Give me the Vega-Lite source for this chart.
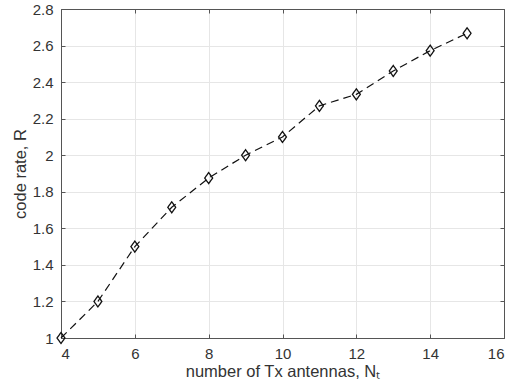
{
  "$schema": "https://vega.github.io/schema/vega-lite/v6.json",
  "width": 443,
  "height": 329,
  "autosize": {"type": "none"},
  "padding": {"left": 61, "top": 9, "right": 9, "bottom": 53},
  "background": "white",
  "config": {
    "view": {"stroke": "#555555", "strokeWidth": 1},
    "font": "Liberation Sans",
    "axis": {
      "labelFont": "Liberation Sans",
      "titleFont": "Liberation Sans",
      "labelColor": "#333333",
      "titleColor": "#333333",
      "labelFontSize": 15,
      "titleFontSize": 16.5,
      "titleFontWeight": "normal",
      "domainColor": "#555555",
      "tickColor": "#555555",
      "gridColor": "#e6e6e6",
      "gridWidth": 1
    }
  },
  "data": {
    "values": [
      {"Nt": 4, "R": 1.0},
      {"Nt": 5, "R": 1.2},
      {"Nt": 6, "R": 1.5},
      {"Nt": 7, "R": 1.715},
      {"Nt": 8, "R": 1.875},
      {"Nt": 9, "R": 2.0},
      {"Nt": 10, "R": 2.1},
      {"Nt": 11, "R": 2.27},
      {"Nt": 12, "R": 2.333},
      {"Nt": 13, "R": 2.461},
      {"Nt": 14, "R": 2.572},
      {"Nt": 15, "R": 2.667}
    ]
  },
  "layer": [
    {
      "mark": {
        "type": "line",
        "color": "#111111",
        "strokeWidth": 1.2,
        "strokeDash": [8, 5],
        "point": {"shape": "M0,-1L0.72,0L0,1L-0.72,0Z", "filled": false, "size": 121, "color": "#111111", "strokeWidth": 1.3, "strokeDash": [1, 0]}
      },
      "encoding": {
        "x": {
          "field": "Nt", "type": "quantitative",
          "scale": {"domain": [4, 16], "nice": false, "zero": false},
          "axis": {"values": [4, 6, 8, 10, 12, 14, 16], "title": "number of Tx antennas, Nₜ", "grid": true, "tickSize": -4, "labelPadding": 12, "titlePadding": 2, "domain": true}
        },
        "y": {
          "field": "R", "type": "quantitative",
          "scale": {"domain": [1, 2.8], "nice": false, "zero": false},
          "axis": {"values": [1, 1.2, 1.4, 1.6, 1.8, 2, 2.2, 2.4, 2.6, 2.8], "format": "~g", "title": "code rate, R", "grid": true, "tickSize": -4, "labelPadding": 12, "titlePadding": 4}
        }
      }
    },
    {
      "mark": {"type": "point", "opacity": 0},
      "encoding": {
        "x": {
          "field": "Nt", "type": "quantitative",
          "scale": {"domain": [4, 16], "nice": false, "zero": false},
          "axis": {"orient": "top", "values": [4, 6, 8, 10, 12, 14, 16], "labels": false, "title": null, "grid": false, "tickSize": -4}
        },
        "y": {
          "field": "R", "type": "quantitative",
          "scale": {"domain": [1, 2.8], "nice": false, "zero": false},
          "axis": {"orient": "right", "values": [1, 1.2, 1.4, 1.6, 1.8, 2, 2.2, 2.4, 2.6, 2.8], "labels": false, "title": null, "grid": false, "tickSize": -4}
        }
      }
    }
  ],
  "resolve": {"scale": {"x": "independent", "y": "independent"}}
}
